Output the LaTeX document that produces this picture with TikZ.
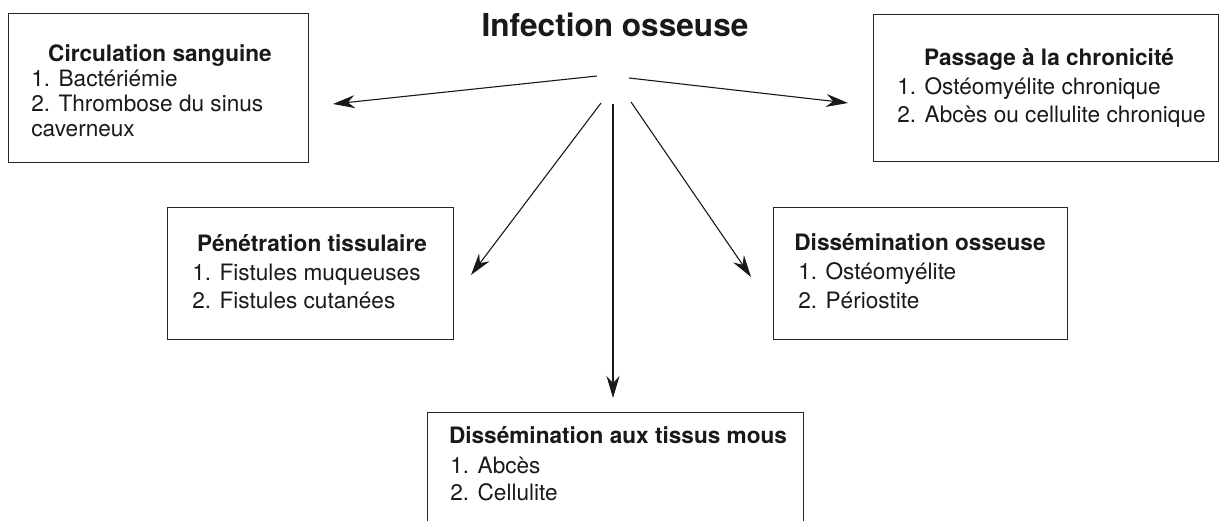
\documentclass[tikz,border=0pt]{standalone}
\usepackage{fontspec}
\setmainfont{TeX Gyre Heros}
\usetikzlibrary{arrows.meta}
\begin{document}
\begin{tikzpicture}[x=0.5pt,y=-0.5pt,
  box/.style={draw=black!85, line width=0.7pt, inner sep=0, anchor=north west},
  head/.style={font=\fontsize{11.3}{13}\selectfont\bfseries, anchor=base, inner sep=0, text=black!90},
  item/.style={font=\fontsize{11.3}{13}\selectfont, anchor=base west, inner sep=0, text=black!90},
  arr/.style={line width=0.55pt, draw=black!90, -{Stealth[length=11pt,width=6.5pt]}}]
\useasboundingbox (0,0) rectangle (1219,520);
\begin{scope}
\clip (0,0) rectangle (1219,520);
% title
\node[font=\fontsize{15.8}{18}\selectfont\bfseries, anchor=base, inner sep=0, text=black!90] (title) at (615,36) {Infection osseuse};

% Circulation sanguine
\node[box, minimum width=150pt, minimum height=74.5pt] (circ) at (8,13) {};
\node[head] (circh) at (160,61) {Circulation sanguine};
\node[item] (circa) at (31,86) {1. Bactériémie};
\node[item] (circb) at (31,111) {2. Thrombose du sinus};
\node[item] (circc) at (31,136) {caverneux};

% Passage a la chronicite
\node[box, minimum width=172.5pt, minimum height=73.5pt] (pass) at (873,14) {};
\node[head] (passh) at (1049,65) {Passage à la chronicité};
\node[item] (passa) at (897,94) {1. Ostéomyélite chronique};
\node[item] (passb) at (897,122) {2. Abcès ou cellulite chronique};

% Penetration tissulaire
\node[box, minimum width=143pt, minimum height=66pt] (pen) at (167,207) {};
\node[head] (penh) at (312,251) {Pénétration tissulaire};
\node[item] (pena) at (192,280) {1. Fistules muqueuses};
\node[item] (penb) at (192,308) {2. Fistules cutanées};

% Dissemination osseuse
\node[box, minimum width=147pt, minimum height=66pt] (dos) at (773,207) {};
\node[head] (dosh) at (920,250) {Dissémination osseuse};
\node[item] (dosa) at (798,279) {1. Ostéomyélite};
\node[item] (dosb) at (798,308) {2. Périostite};

% Dissemination aux tissus mous
\node[box, minimum width=188pt, minimum height=80pt] (bot) at (427,412) {};
\node[head] (both) at (618,443) {Dissémination aux tissus mous};
\node[item] (bota) at (450,473) {1. Abcès};
\node[item] (botb) at (450,500) {2. Cellulite};

% arrows
\coordinate (s1) at (597,76);  \coordinate (e1) at (333,104);
\coordinate (s2) at (629,78);  \coordinate (e2) at (848,103);
\coordinate (s3) at (601,103); \coordinate (e3) at (471,275);
\coordinate (s4) at (613,104); \coordinate (e4) at (613,398);
\coordinate (s5) at (631,102); \coordinate (e5) at (751,277);
\draw[arr] (s1) -- (e1);
\draw[arr] (s2) -- (e2);
\draw[arr] (s3) -- (e3);
\draw[arr] (s4) -- (e4);
\draw[arr] (s5) -- (e5);
\end{scope}
\end{tikzpicture}
\end{document}
